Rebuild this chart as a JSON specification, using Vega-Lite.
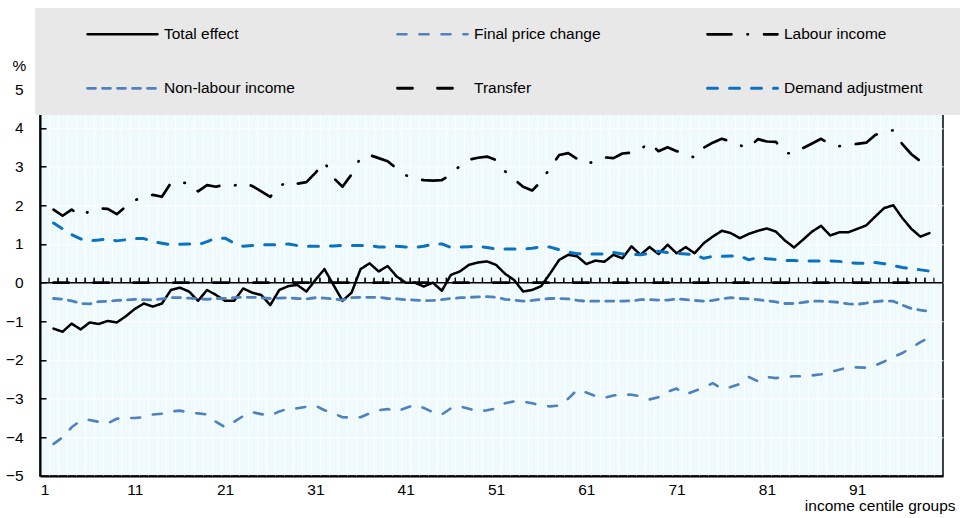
{
"$schema": "https://vega.github.io/schema/vega-lite/v6.json",
"width": 903, "height": 386.7,
"autosize": {"type": "none"},
"padding": {"left": 40, "top": 89.3, "right": 17, "bottom": 41.7},
"background": "white",
"config": {
  "font": "Liberation Sans",
  "view": {"fill": "#eefafc", "stroke": "black", "strokeWidth": 1.5},
  "axis": {"labelFont": "Liberation Sans", "labelFontSize": 15.5, "labelColor": "black", "titleFont": "Liberation Sans", "titleFontSize": 15.5, "titleFontWeight": "normal", "titleColor": "black"},
  "legend": {"labelFont": "Liberation Sans", "labelFontSize": 15.5, "labelColor": "black"}
},
"data": {"values": [
{"c":2,"Total effect":-1.19,"Final price change":-4.17,"Labour income":1.89,"Non-labour income":-0.41,"Transfer":0,"Demand adjustment":1.54},
{"c":3,"Total effect":-1.27,"Final price change":-4.00,"Labour income":1.73,"Non-labour income":-0.43,"Transfer":0,"Demand adjustment":1.39},
{"c":4,"Total effect":-1.06,"Final price change":-3.74,"Labour income":1.89,"Non-labour income":-0.47,"Transfer":0,"Demand adjustment":1.24},
{"c":5,"Total effect":-1.21,"Final price change":-3.57,"Labour income":1.73,"Non-labour income":-0.54,"Transfer":0,"Demand adjustment":1.13},
{"c":6,"Total effect":-1.03,"Final price change":-3.55,"Labour income":1.85,"Non-labour income":-0.55,"Transfer":0,"Demand adjustment":1.08},
{"c":7,"Total effect":-1.07,"Final price change":-3.60,"Labour income":1.92,"Non-labour income":-0.49,"Transfer":0,"Demand adjustment":1.10},
{"c":8,"Total effect":-0.99,"Final price change":-3.64,"Labour income":1.91,"Non-labour income":-0.48,"Transfer":0,"Demand adjustment":1.13},
{"c":9,"Total effect":-1.03,"Final price change":-3.52,"Labour income":1.77,"Non-labour income":-0.46,"Transfer":0,"Demand adjustment":1.08},
{"c":10,"Total effect":-0.87,"Final price change":-3.50,"Labour income":1.97,"Non-labour income":-0.45,"Transfer":0,"Demand adjustment":1.11},
{"c":11,"Total effect":-0.68,"Final price change":-3.50,"Labour income":2.13,"Non-labour income":-0.43,"Transfer":0,"Demand adjustment":1.14},
{"c":12,"Total effect":-0.54,"Final price change":-3.48,"Labour income":2.22,"Non-labour income":-0.44,"Transfer":0,"Demand adjustment":1.14},
{"c":13,"Total effect":-0.62,"Final price change":-3.41,"Labour income":2.27,"Non-labour income":-0.45,"Transfer":0,"Demand adjustment":1.06},
{"c":14,"Total effect":-0.54,"Final price change":-3.39,"Labour income":2.22,"Non-labour income":-0.42,"Transfer":0,"Demand adjustment":1.02},
{"c":15,"Total effect":-0.19,"Final price change":-3.33,"Labour income":2.58,"Non-labour income":-0.39,"Transfer":0,"Demand adjustment":0.98},
{"c":16,"Total effect":-0.13,"Final price change":-3.31,"Labour income":2.58,"Non-labour income":-0.39,"Transfer":0,"Demand adjustment":0.99},
{"c":17,"Total effect":-0.23,"Final price change":-3.36,"Labour income":2.58,"Non-labour income":-0.40,"Transfer":0,"Demand adjustment":1.00},
{"c":18,"Total effect":-0.47,"Final price change":-3.38,"Labour income":2.36,"Non-labour income":-0.42,"Transfer":0,"Demand adjustment":0.98},
{"c":19,"Total effect":-0.19,"Final price change":-3.41,"Labour income":2.52,"Non-labour income":-0.43,"Transfer":0,"Demand adjustment":1.06},
{"c":20,"Total effect":-0.32,"Final price change":-3.60,"Labour income":2.48,"Non-labour income":-0.41,"Transfer":0,"Demand adjustment":1.15},
{"c":21,"Total effect":-0.47,"Final price change":-3.74,"Labour income":2.54,"Non-labour income":-0.41,"Transfer":0,"Demand adjustment":1.15},
{"c":22,"Total effect":-0.47,"Final price change":-3.60,"Labour income":2.51,"Non-labour income":-0.39,"Transfer":0,"Demand adjustment":1.02},
{"c":23,"Total effect":-0.15,"Final price change":-3.45,"Labour income":2.58,"Non-labour income":-0.38,"Transfer":0,"Demand adjustment":0.94},
{"c":24,"Total effect":-0.26,"Final price change":-3.35,"Labour income":2.50,"Non-labour income":-0.38,"Transfer":0,"Demand adjustment":0.96},
{"c":25,"Total effect":-0.32,"Final price change":-3.40,"Labour income":2.36,"Non-labour income":-0.39,"Transfer":0,"Demand adjustment":0.98},
{"c":26,"Total effect":-0.58,"Final price change":-3.44,"Labour income":2.22,"Non-labour income":-0.41,"Transfer":0,"Demand adjustment":0.98},
{"c":27,"Total effect":-0.19,"Final price change":-3.33,"Labour income":2.49,"Non-labour income":-0.40,"Transfer":0,"Demand adjustment":0.98},
{"c":28,"Total effect":-0.09,"Final price change":-3.26,"Labour income":2.62,"Non-labour income":-0.39,"Transfer":0,"Demand adjustment":1.00},
{"c":29,"Total effect":-0.06,"Final price change":-3.25,"Labour income":2.56,"Non-labour income":-0.41,"Transfer":0,"Demand adjustment":0.96},
{"c":30,"Total effect":-0.23,"Final price change":-3.21,"Labour income":2.60,"Non-labour income":-0.42,"Transfer":0,"Demand adjustment":0.94},
{"c":31,"Total effect":0.07,"Final price change":-3.18,"Labour income":2.84,"Non-labour income":-0.39,"Transfer":0,"Demand adjustment":0.94},
{"c":32,"Total effect":0.35,"Final price change":-3.30,"Labour income":3.12,"Non-labour income":-0.40,"Transfer":0,"Demand adjustment":0.94},
{"c":33,"Total effect":-0.06,"Final price change":-3.38,"Labour income":2.71,"Non-labour income":-0.42,"Transfer":0,"Demand adjustment":0.95},
{"c":34,"Total effect":-0.47,"Final price change":-3.48,"Labour income":2.48,"Non-labour income":-0.45,"Transfer":0,"Demand adjustment":0.96},
{"c":35,"Total effect":-0.26,"Final price change":-3.49,"Labour income":2.80,"Non-labour income":-0.39,"Transfer":0,"Demand adjustment":0.96},
{"c":36,"Total effect":0.35,"Final price change":-3.48,"Labour income":3.23,"Non-labour income":-0.38,"Transfer":0,"Demand adjustment":0.96},
{"c":37,"Total effect":0.50,"Final price change":-3.38,"Labour income":3.30,"Non-labour income":-0.38,"Transfer":0,"Demand adjustment":0.96},
{"c":38,"Total effect":0.29,"Final price change":-3.30,"Labour income":3.22,"Non-labour income":-0.38,"Transfer":0,"Demand adjustment":0.92},
{"c":39,"Total effect":0.43,"Final price change":-3.27,"Labour income":3.14,"Non-labour income":-0.41,"Transfer":0,"Demand adjustment":0.92},
{"c":40,"Total effect":0.16,"Final price change":-3.33,"Labour income":2.95,"Non-labour income":-0.42,"Transfer":0,"Demand adjustment":0.94},
{"c":41,"Total effect":0.00,"Final price change":-3.24,"Labour income":2.78,"Non-labour income":-0.44,"Transfer":0,"Demand adjustment":0.92},
{"c":42,"Total effect":0.00,"Final price change":-3.16,"Labour income":2.68,"Non-labour income":-0.45,"Transfer":0,"Demand adjustment":0.91},
{"c":43,"Total effect":-0.10,"Final price change":-3.24,"Labour income":2.65,"Non-labour income":-0.47,"Transfer":0,"Demand adjustment":0.94},
{"c":44,"Total effect":0.00,"Final price change":-3.35,"Labour income":2.64,"Non-labour income":-0.46,"Transfer":0,"Demand adjustment":1.00},
{"c":45,"Total effect":-0.21,"Final price change":-3.41,"Labour income":2.65,"Non-labour income":-0.44,"Transfer":0,"Demand adjustment":1.00},
{"c":46,"Total effect":0.20,"Final price change":-3.25,"Labour income":2.80,"Non-labour income":-0.41,"Transfer":0,"Demand adjustment":0.91},
{"c":47,"Total effect":0.29,"Final price change":-3.20,"Labour income":3.02,"Non-labour income":-0.39,"Transfer":0,"Demand adjustment":0.92},
{"c":48,"Total effect":0.46,"Final price change":-3.26,"Labour income":3.18,"Non-labour income":-0.38,"Transfer":0,"Demand adjustment":0.93},
{"c":49,"Total effect":0.52,"Final price change":-3.33,"Labour income":3.23,"Non-labour income":-0.37,"Transfer":0,"Demand adjustment":0.94},
{"c":50,"Total effect":0.55,"Final price change":-3.30,"Labour income":3.26,"Non-labour income":-0.36,"Transfer":0,"Demand adjustment":0.91},
{"c":51,"Total effect":0.46,"Final price change":-3.25,"Labour income":3.17,"Non-labour income":-0.38,"Transfer":0,"Demand adjustment":0.87},
{"c":52,"Total effect":0.23,"Final price change":-3.12,"Labour income":2.88,"Non-labour income":-0.43,"Transfer":0,"Demand adjustment":0.87},
{"c":53,"Total effect":0.07,"Final price change":-3.07,"Labour income":2.67,"Non-labour income":-0.45,"Transfer":0,"Demand adjustment":0.87},
{"c":54,"Total effect":-0.23,"Final price change":-3.08,"Labour income":2.48,"Non-labour income":-0.48,"Transfer":0,"Demand adjustment":0.87},
{"c":55,"Total effect":-0.19,"Final price change":-3.12,"Labour income":2.38,"Non-labour income":-0.46,"Transfer":0,"Demand adjustment":0.89},
{"c":56,"Total effect":-0.09,"Final price change":-3.18,"Labour income":2.62,"Non-labour income":-0.43,"Transfer":0,"Demand adjustment":0.93},
{"c":57,"Total effect":0.24,"Final price change":-3.20,"Labour income":2.97,"Non-labour income":-0.41,"Transfer":0,"Demand adjustment":0.92},
{"c":58,"Total effect":0.59,"Final price change":-3.18,"Labour income":3.30,"Non-labour income":-0.41,"Transfer":0,"Demand adjustment":0.85},
{"c":59,"Total effect":0.72,"Final price change":-3.00,"Labour income":3.35,"Non-labour income":-0.42,"Transfer":0,"Demand adjustment":0.79},
{"c":60,"Total effect":0.68,"Final price change":-2.77,"Labour income":3.20,"Non-labour income":-0.46,"Transfer":0,"Demand adjustment":0.75},
{"c":61,"Total effect":0.48,"Final price change":-2.84,"Labour income":3.07,"Non-labour income":-0.48,"Transfer":0,"Demand adjustment":0.74},
{"c":62,"Total effect":0.57,"Final price change":-2.93,"Labour income":3.14,"Non-labour income":-0.48,"Transfer":0,"Demand adjustment":0.74},
{"c":63,"Total effect":0.54,"Final price change":-2.98,"Labour income":3.24,"Non-labour income":-0.48,"Transfer":0,"Demand adjustment":0.74},
{"c":64,"Total effect":0.72,"Final price change":-2.92,"Labour income":3.22,"Non-labour income":-0.48,"Transfer":0,"Demand adjustment":0.78},
{"c":65,"Total effect":0.63,"Final price change":-2.89,"Labour income":3.34,"Non-labour income":-0.48,"Transfer":0,"Demand adjustment":0.74},
{"c":66,"Total effect":0.94,"Final price change":-2.90,"Labour income":3.36,"Non-labour income":-0.47,"Transfer":0,"Demand adjustment":0.73},
{"c":67,"Total effect":0.72,"Final price change":-2.94,"Labour income":3.45,"Non-labour income":-0.44,"Transfer":0,"Demand adjustment":0.72},
{"c":68,"Total effect":0.92,"Final price change":-3.02,"Labour income":3.62,"Non-labour income":-0.44,"Transfer":0,"Demand adjustment":0.76},
{"c":69,"Total effect":0.74,"Final price change":-2.96,"Labour income":3.40,"Non-labour income":-0.45,"Transfer":0,"Demand adjustment":0.81},
{"c":70,"Total effect":0.98,"Final price change":-2.82,"Labour income":3.50,"Non-labour income":-0.45,"Transfer":0,"Demand adjustment":0.78},
{"c":71,"Total effect":0.76,"Final price change":-2.74,"Labour income":3.40,"Non-labour income":-0.42,"Transfer":0,"Demand adjustment":0.76},
{"c":72,"Total effect":0.92,"Final price change":-2.89,"Labour income":3.34,"Non-labour income":-0.44,"Transfer":0,"Demand adjustment":0.74},
{"c":73,"Total effect":0.76,"Final price change":-2.80,"Labour income":3.23,"Non-labour income":-0.46,"Transfer":0,"Demand adjustment":0.72},
{"c":74,"Total effect":1.02,"Final price change":-2.72,"Labour income":3.49,"Non-labour income":-0.48,"Transfer":0,"Demand adjustment":0.63},
{"c":75,"Total effect":1.19,"Final price change":-2.60,"Labour income":3.62,"Non-labour income":-0.46,"Transfer":0,"Demand adjustment":0.68},
{"c":76,"Total effect":1.34,"Final price change":-2.74,"Labour income":3.72,"Non-labour income":-0.42,"Transfer":0,"Demand adjustment":0.68},
{"c":77,"Total effect":1.28,"Final price change":-2.70,"Labour income":3.65,"Non-labour income":-0.39,"Transfer":0,"Demand adjustment":0.69},
{"c":78,"Total effect":1.15,"Final price change":-2.62,"Labour income":3.55,"Non-labour income":-0.41,"Transfer":0,"Demand adjustment":0.69},
{"c":79,"Total effect":1.26,"Final price change":-2.44,"Labour income":3.49,"Non-labour income":-0.42,"Transfer":0,"Demand adjustment":0.59},
{"c":80,"Total effect":1.34,"Final price change":-2.55,"Labour income":3.71,"Non-labour income":-0.44,"Transfer":0,"Demand adjustment":0.65},
{"c":81,"Total effect":1.40,"Final price change":-2.44,"Labour income":3.65,"Non-labour income":-0.47,"Transfer":0,"Demand adjustment":0.62},
{"c":82,"Total effect":1.32,"Final price change":-2.47,"Labour income":3.64,"Non-labour income":-0.50,"Transfer":0,"Demand adjustment":0.60},
{"c":83,"Total effect":1.09,"Final price change":-2.44,"Labour income":3.35,"Non-labour income":-0.54,"Transfer":0,"Demand adjustment":0.57},
{"c":84,"Total effect":0.91,"Final price change":-2.42,"Labour income":3.34,"Non-labour income":-0.54,"Transfer":0,"Demand adjustment":0.57},
{"c":85,"Total effect":1.11,"Final price change":-2.42,"Labour income":3.48,"Non-labour income":-0.51,"Transfer":0,"Demand adjustment":0.56},
{"c":86,"Total effect":1.32,"Final price change":-2.40,"Labour income":3.60,"Non-labour income":-0.48,"Transfer":0,"Demand adjustment":0.56},
{"c":87,"Total effect":1.47,"Final price change":-2.37,"Labour income":3.72,"Non-labour income":-0.48,"Transfer":0,"Demand adjustment":0.56},
{"c":88,"Total effect":1.22,"Final price change":-2.31,"Labour income":3.58,"Non-labour income":-0.49,"Transfer":0,"Demand adjustment":0.56},
{"c":89,"Total effect":1.30,"Final price change":-2.25,"Labour income":3.53,"Non-labour income":-0.51,"Transfer":0,"Demand adjustment":0.55},
{"c":90,"Total effect":1.30,"Final price change":-2.19,"Labour income":3.56,"Non-labour income":-0.55,"Transfer":0,"Demand adjustment":0.52},
{"c":91,"Total effect":1.39,"Final price change":-2.19,"Labour income":3.59,"Non-labour income":-0.56,"Transfer":0,"Demand adjustment":0.50},
{"c":92,"Total effect":1.48,"Final price change":-2.20,"Labour income":3.62,"Non-labour income":-0.53,"Transfer":0,"Demand adjustment":0.50},
{"c":93,"Total effect":1.71,"Final price change":-2.14,"Labour income":3.82,"Non-labour income":-0.49,"Transfer":0,"Demand adjustment":0.52},
{"c":94,"Total effect":1.93,"Final price change":-2.04,"Labour income":3.90,"Non-labour income":-0.47,"Transfer":0,"Demand adjustment":0.49},
{"c":95,"Total effect":2.00,"Final price change":-1.92,"Labour income":3.94,"Non-labour income":-0.48,"Transfer":0,"Demand adjustment":0.44},
{"c":96,"Total effect":1.67,"Final price change":-1.82,"Labour income":3.58,"Non-labour income":-0.58,"Transfer":0,"Demand adjustment":0.39},
{"c":97,"Total effect":1.39,"Final price change":-1.68,"Labour income":3.32,"Non-labour income":-0.67,"Transfer":0,"Demand adjustment":0.36},
{"c":98,"Total effect":1.19,"Final price change":-1.54,"Labour income":3.14,"Non-labour income":-0.71,"Transfer":0,"Demand adjustment":0.33},
{"c":99,"Total effect":1.28,"Final price change":-1.42,"Labour income":3.10,"Non-labour income":-0.74,"Transfer":0,"Demand adjustment":0.30}
]},
"layer": [
  {
    "data": {"values": [{}]},
    "mark": {"type": "rect", "color": "#e8e8e8"},
    "encoding": {
      "x": {"datum": -0.05, "type": "quantitative", "scale": {"domain": [0.5, 100.5], "nice": false, "zero": false},
        "axis": {"orient": "bottom", "values": [1.5,2.5,3.5,4.5,5.5,6.5,7.5,8.5,9.5,10.5,11.5,12.5,13.5,14.5,15.5,16.5,17.5,18.5,19.5,20.5,21.5,22.5,23.5,24.5,25.5,26.5,27.5,28.5,29.5,30.5,31.5,32.5,33.5,34.5,35.5,36.5,37.5,38.5,39.5,40.5,41.5,42.5,43.5,44.5,45.5,46.5,47.5,48.5,49.5,50.5,51.5,52.5,53.5,54.5,55.5,56.5,57.5,58.5,59.5,60.5,61.5,62.5,63.5,64.5,65.5,66.5,67.5,68.5,69.5,70.5,71.5,72.5,73.5,74.5,75.5,76.5,77.5,78.5,79.5,80.5,81.5,82.5,83.5,84.5,85.5,86.5,87.5,88.5,89.5,90.5,91.5,92.5,93.5,94.5,95.5,96.5,97.5,98.5,99.5],
          "labels": false, "ticks": false, "domain": false, "grid": true, "gridColor": "white", "gridWidth": 1, "title": null}},
      "x2": {"datum": 102.4},
      "y": {"datum": 4.337, "type": "quantitative", "scale": {"domain": [-5, 5], "nice": false, "zero": false}, "axis": null},
      "y2": {"datum": 7.1}
    }
  },
  {
    "data": {"values": [{}]},
    "mark": {"type": "rule", "color": "black", "strokeWidth": 1.5},
    "encoding": {
      "y": {"datum": 0, "type": "quantitative", "scale": {"domain": [-5, 5], "nice": false, "zero": false},
        "axis": {"orient": "right", "offset": -903, "values": [-4, -3, -2, -1, 0, 1, 2, 3, 4], "tickSize": 6, "tickColor": "black", "tickWidth": 1.5, "labels": false, "domain": false, "grid": false, "title": null}}
    }
  },
  {
    "mark": {"type": "tick", "orient": "vertical", "size": 5, "thickness": 1.2, "color": "black", "opacity": 1, "xOffset": 4.5, "yOffset": -2.5},
    "encoding": {
      "x": {"field": "c", "type": "quantitative", "scale": {"domain": [0.5, 100.5], "nice": false, "zero": false}, "axis": null},
      "y": {"datum": 0, "type": "quantitative", "scale": {"domain": [-5, 5], "nice": false, "zero": false}, "axis": null}
    }
  },
  {
    "mark": {"type": "tick", "orient": "vertical", "size": 5, "thickness": 1.2, "color": "black", "opacity": 1, "xOffset": -4.5, "yOffset": -2.5},
    "encoding": {
      "x": {"field": "c", "type": "quantitative", "scale": {"domain": [0.5, 100.5], "nice": false, "zero": false}, "axis": null},
      "y": {"datum": 0, "type": "quantitative", "scale": {"domain": [-5, 5], "nice": false, "zero": false}, "axis": null}
    }
  },
  {
    "transform": [{"fold": ["Total effect", "Final price change", "Labour income", "Non-labour income", "Transfer", "Demand adjustment"], "as": ["series", "value"]}],
    "mark": {"type": "line", "strokeCap": "round", "strokeJoin": "round"},
    "encoding": {
      "x": {"field": "c", "type": "quantitative", "scale": {"domain": [0.5, 100.5], "nice": false, "zero": false},
        "axis": {"orient": "bottom", "values": [1, 11, 21, 31, 41, 51, 61, 71, 81, 91], "ticks": false, "grid": false, "domainColor": "black", "domainWidth": 2, "labelPadding": 7, "labelFlush": false,
          "title": "income centile groups", "titleX": 915, "titleY": 34.7, "titleAlign": "right", "titleBaseline": "alphabetic"}},
      "y": {"field": "value", "type": "quantitative", "scale": {"domain": [-5, 5], "nice": false, "zero": false},
        "axis": {"orient": "left", "values": [-5, -4, -3, -2, -1, 0, 1, 2, 3, 4, 5], "ticks": false, "labelPadding": 17, "labelAlign": "right",
          "domainColor": "black", "domainWidth": 2, "grid": true, "gridColor": "white", "gridWidth": 1,
          "title": "%", "titleAngle": 0, "titleAlign": "center", "titleBaseline": "middle", "titleX": -21, "titleY": -24}},
      "color": {"field": "series", "type": "nominal",
        "scale": {"domain": ["Total effect", "Final price change", "Labour income", "Non-labour income", "Transfer", "Demand adjustment"], "range": ["#000000", "#4F81BD", "#000000", "#4F81BD", "#000000", "#0B72C1"]},
        "legend": {"title": null, "orient": "none", "legendX": 46, "legendY": -64, "direction": "horizontal", "columns": 3, "symbolType": "stroke", "symbolSize": 4900, "clipHeight": 18, "labelOffset": 5, "columnPadding": 93, "rowPadding": 36, "gridAlign": "all", "labelLimit": 300,
          "encode": {"symbols": {"update": {"strokeCap": {"value": "round"}}}}}},
      "strokeDash": {"field": "series", "type": "nominal",
        "scale": {"domain": ["Total effect", "Final price change", "Labour income", "Non-labour income", "Transfer", "Demand adjustment"], "range": [[1, 0], [9, 13], [24, 16, 0.5, 16], [8, 7], [15, 25], [10, 12]]},
        "legend": {"title": null, "orient": "none", "legendX": 46, "legendY": -64, "direction": "horizontal", "columns": 3, "symbolType": "stroke", "symbolSize": 4900, "clipHeight": 18, "labelOffset": 5, "columnPadding": 93, "rowPadding": 36, "gridAlign": "all", "labelLimit": 300,
          "encode": {"symbols": {"update": {"strokeCap": {"value": "round"}}}}}},
      "strokeWidth": {"field": "series", "type": "nominal",
        "scale": {"domain": ["Total effect", "Final price change", "Labour income", "Non-labour income", "Transfer", "Demand adjustment"], "range": [2.5, 3, 3, 3.5, 7, 5.5]},
        "legend": {"title": null, "orient": "none", "legendX": 46, "legendY": -64, "direction": "horizontal", "columns": 3, "symbolType": "stroke", "symbolSize": 4900, "clipHeight": 18, "labelOffset": 5, "columnPadding": 93, "rowPadding": 36, "gridAlign": "all", "labelLimit": 300,
          "encode": {"symbols": {"update": {"strokeCap": {"value": "round"}}}}}}
    }
  }
],
"resolve": {"axis": {"x": "independent", "y": "independent"}}
}
